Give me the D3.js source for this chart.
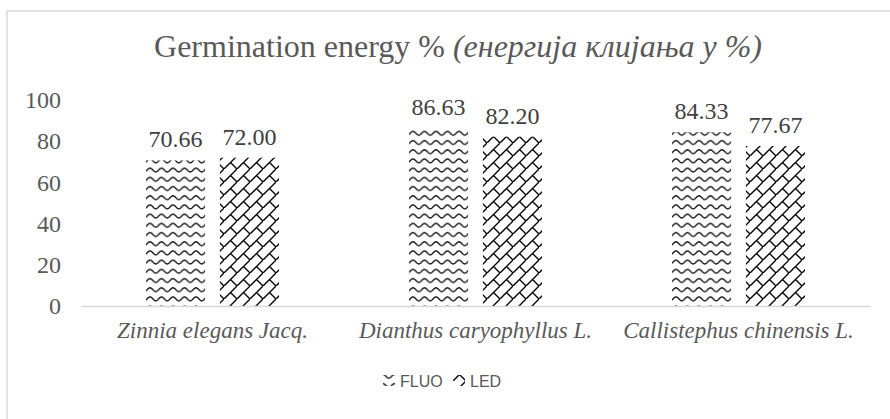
<!DOCTYPE html>
<html>
<head>
<meta charset="utf-8">
<script src="https://cdn.jsdelivr.net/npm/d3@7"></script>
<style>
  body { margin: 0; background: #fff; }
  text { font-family: "Liberation Serif", "Times New Roman", serif; }
</style>
</head>
<body>
<div id="output"></div>
<script>
(function () {

"use strict";

var categories = [ "Zinnia elegans Jacq.", "Dianthus caryophyllus L.", "Callistephus chinensis L." ]
var seriesNames = [ "FLUO", "LED" ]
var fluoValues = [ 70.66, 86.63, 84.33 ]
var ledValues = [ 72.00, 82.20, 77.67 ]
var yTicks = [ 0, 20, 40, 60, 80, 100 ]

var width = 890
  , height = 419
  , left = 81
  , right = 870
  , top = 100
  , bottom = 306
  , grey = "#595959"

var svg = d3.select("#output").append("svg").attr("width", width).attr("height", height)

// fill patterns (wave for FLUO, diagonal brick for LED)
var defs = svg.append("defs")

var wave = defs.append("pattern").attr("id", "pat-FLUO")
  .attr("patternUnits", "userSpaceOnUse").attr("width", 11.5).attr("height", 9.2)
wave.append("rect").attr("width", 11.5).attr("height", 9.2).attr("fill", "#fff")
wave.append("path")
  .attr("d", "M0,2.5 C2.9,2.5 2.9,6.5 5.75,6.5 C8.6,6.5 8.6,2.5 11.5,2.5")
  .attr("fill", "none").attr("stroke", "#000").attr("stroke-width", 1.4)

var brick = defs.append("pattern").attr("id", "pat-LED")
  .attr("patternUnits", "userSpaceOnUse").attr("width", 13).attr("height", 13)
brick.append("rect").attr("width", 13).attr("height", 13).attr("fill", "#fff")
brick.append("path")
  .attr("d", "M-1,14 L14,-1 M6.5,6.5 L13,13")
  .attr("fill", "none").attr("stroke", "#000").attr("stroke-width", 1.4)

// chart border (right and bottom edges fall outside the picture)
svg.append("rect")
  .attr("x", 7).attr("y", 11).attr("width", 900).attr("height", 420)
  .attr("fill", "none").attr("stroke", "#d9d9d9").attr("stroke-width", 1.5)

// title
var title = svg.append("text")
  .attr("x", 458).attr("y", 57)
  .attr("text-anchor", "middle")
  .style("font-size", "32px")
  .attr("fill", grey)
title.append("tspan").text("Germination energy % ")
title.append("tspan").style("font-style", "italic").text("(енергија клијања у %)")

var x0 = d3.scaleBand().domain(categories).range([ left, right ])
var x1 = d3.scaleBand().domain(seriesNames).range([ 65, 198 ]).paddingInner(0.2)
var y = d3.scaleLinear().domain([ 0, 100 ]).range([ bottom, top ])

// y axis labels
var yAxis = svg.append("g")
  .attr("transform", "translate(" + (left - 20) + ",0)")
  .call(d3.axisLeft(y).tickValues(yTicks).tickSize(0).tickPadding(0))
yAxis.select(".domain").remove()
yAxis.selectAll("text")
  .attr("fill", grey)
  .style("font-size", "24px")
  .style("font-family", "'Liberation Serif', serif")

var data = categories.map(function (c, i) {
  return { cat: c, values: [ { s: "FLUO", v: fluoValues[i] }, { s: "LED", v: ledValues[i] } ] }
})

var groups = svg.selectAll("g.cat").data(data).enter()
  .append("g").attr("class", "cat")
  .attr("transform", function (d) { return "translate(" + x0(d.cat) + ",0)" })

groups.selectAll("rect").data(function (d) { return d.values }).enter()
  .append("rect")
  .attr("x", function (d) { return x1(d.s) })
  .attr("y", function (d) { return y(d.v) })
  .attr("width", x1.bandwidth())
  .attr("height", function (d) { return y(0) - y(d.v) })
  .attr("fill", function (d) { return "url(#pat-" + d.s + ")" })

// value labels
groups.selectAll("text.val").data(function (d) { return d.values }).enter()
  .append("text").attr("class", "val")
  .attr("x", function (d) { return x1(d.s) + x1.bandwidth() / 2 })
  .attr("y", function (d) { return y(d.v) - 13 })
  .attr("text-anchor", "middle")
  .style("font-size", "24px")
  .attr("fill", "#404040")
  .text(function (d) { return d.v.toFixed(2) })

// x axis
var xAxis = svg.append("g")
  .attr("transform", "translate(0," + bottom + ")")
  .call(d3.axisBottom(x0).tickSize(0).tickPadding(16))
xAxis.select(".domain").attr("stroke", "#d9d9d9").attr("stroke-width", 1.5)
xAxis.selectAll("text")
  .attr("fill", grey)
  .style("font-size", "23px")
  .style("font-style", "italic")
  .style("font-family", "'Liberation Serif', serif")

// legend
var legendX = [ 383, 453 ]
var legend = svg.append("g").attr("transform", "translate(0,381)")
var items = legend.selectAll("g").data(seriesNames).enter()
  .append("g")
  .attr("transform", function (d, i) { return "translate(" + legendX[i] + ",0)" })
items.append("rect")
  .attr("x", 0).attr("y", -6).attr("width", 12).attr("height", 11)
  .attr("fill", function (d) { return "url(#pat-" + d + ")" })
items.append("text")
  .attr("x", 17).attr("y", 6)
  .style("font-family", "'Liberation Sans', 'Open Sans', sans-serif")
  .style("font-size", "16px")
  .attr("fill", grey)
  .text(function (d) { return d })

}())
</script>
</body>
</html>
